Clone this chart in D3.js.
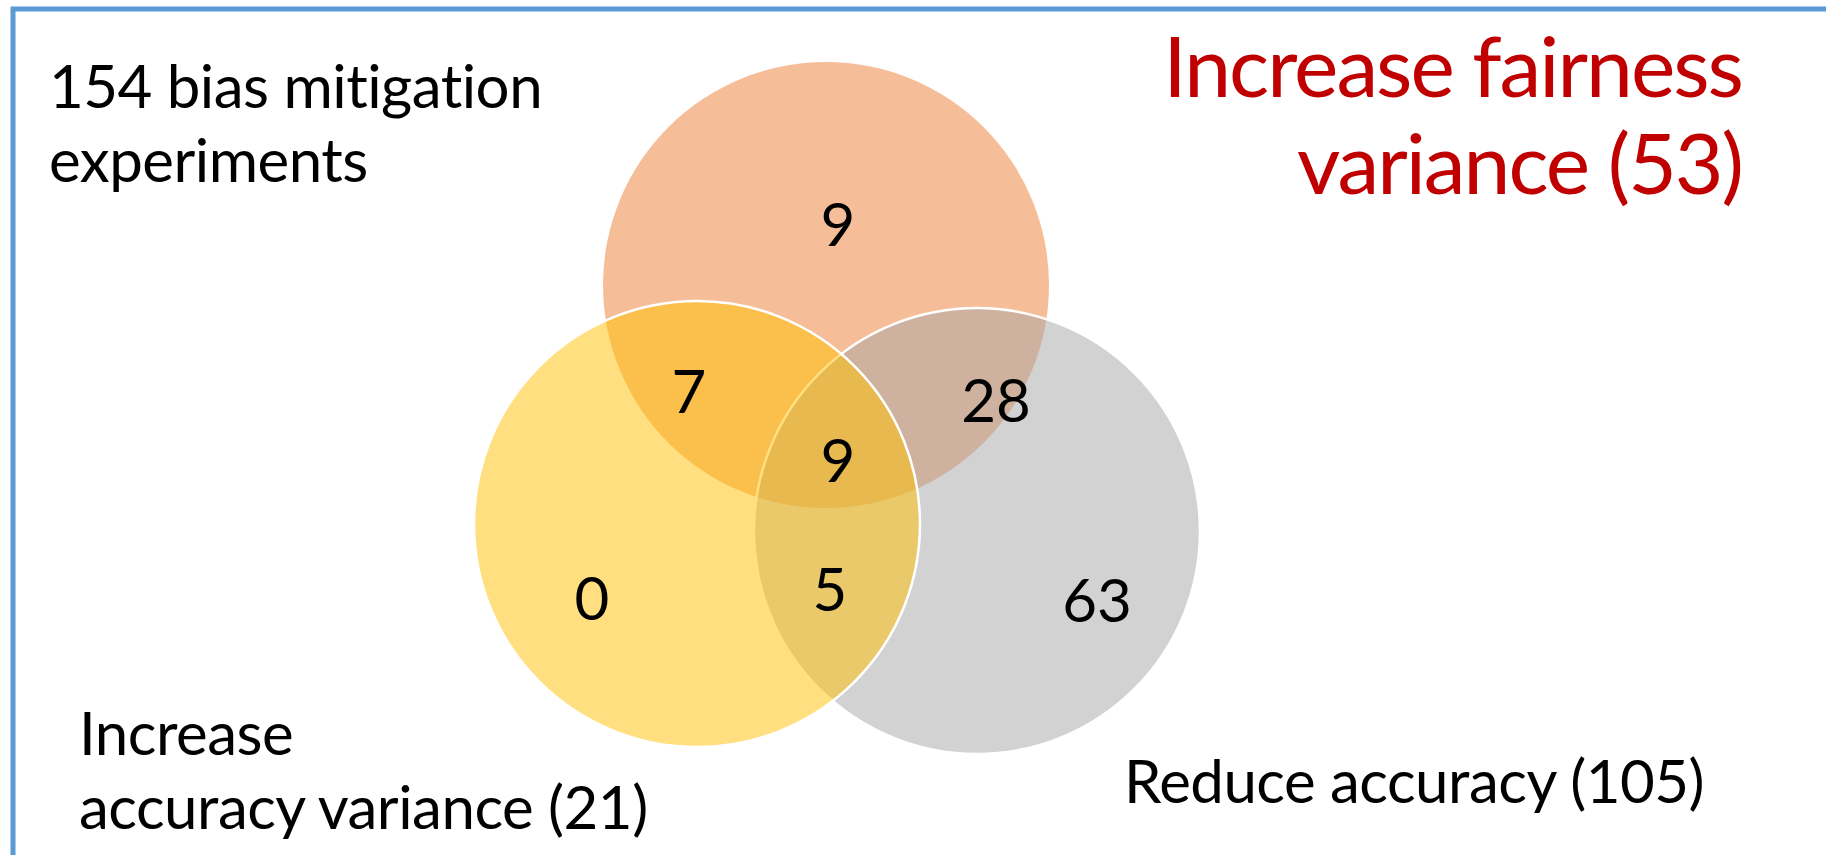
<!DOCTYPE html>
<html>
<head>
<meta charset="utf-8">
<script src="https://cdn.jsdelivr.net/npm/d3@7"></script>
<style>
  body { margin: 0; background: #fff; }
  svg { display: block; }
  text { font-family: Lato, "Open Sans", sans-serif; }
</style>
</head>
<body>
<div id="venn"></div>
<script>
// the three sets (draw order: bottom to top)
const setKeys = ["fair", "acc", "accvar"];
const setColors = ["#ED7D31", "#A5A5A5", "#FFC000"];

// region counts, keyed by the sets they belong to
const regionKeys = ["fair", "fair+accvar", "fair+acc", "fair+acc+accvar", "accvar", "acc+accvar", "acc"];
const regionCounts = [9, 7, 28, 9, 0, 5, 63];

const totalLabel = ["154 bias mitigation", "experiments"];
const fairLabel = ["Increase fairness", "variance (53)"];
const accvarLabel = ["Increase", "accuracy variance (21)"];
const accLabel = ["Reduce accuracy (105)"];

const width = 1826, height = 855;

const svg = d3.select("#venn").append("svg")
    .attr("width", width)
    .attr("height", height);

// frame (only top and left edges fall inside the picture)
svg.append("rect")
    .attr("x", 13).attr("y", 9)
    .attr("width", 2000).attr("height", 1000)
    .attr("fill", "none")
    .attr("stroke", "#5B9BD5")
    .attr("stroke-width", 5);

// circle layout, in pixels
const r = 223;
const centers = {
    fair: [826, 285],
    acc: [977, 531],
    accvar: [697, 524]
};

svg.append("g").selectAll("circle")
    .data(setKeys)
    .join("circle")
    .attr("cx", d => centers[d][0])
    .attr("cy", d => centers[d][1])
    .attr("r", r)
    .attr("fill", (d, i) => setColors[i])
    .attr("fill-opacity", 0.5)
    .attr("stroke", (d, i) => i === 0 ? "none" : "#fff")
    .attr("stroke-width", 2.5);

// where each region's number sits
const regionPos = {
    "fair": [838, 246],
    "fair+accvar": [689, 413],
    "fair+acc": [996, 422],
    "fair+acc+accvar": [838, 482],
    "accvar": [592, 620],
    "acc+accvar": [830, 611],
    "acc": [1097, 622]
};

svg.append("g").selectAll("text")
    .data(regionKeys)
    .join("text")
    .attr("x", d => regionPos[d][0])
    .attr("y", d => regionPos[d][1])
    .attr("text-anchor", "middle")
    .style("font-size", "60px")
    .attr("fill", "#000")
    .text((d, i) => regionCounts[i]);

function block(lines, x, y, lh, size, color, anchor, spacing) {
    const t = svg.append("text")
        .attr("fill", color)
        .attr("text-anchor", anchor)
        .style("font-size", size + "px")
        .style("letter-spacing", spacing + "px");
    lines.forEach((s, i) => {
        t.append("tspan").attr("x", x).attr("y", y + i * lh).text(s);
    });
}

block(totalLabel, 49, 108, 74, 60, "#000", "start", -0.5);
block(fairLabel, 1742, 97, 97, 84, "#C00000", "end", -2);
block(accvarLabel, 79, 755, 74, 60, "#000", "start", -0.5);
block(accLabel, 1124, 803, 74, 60, "#000", "start", -0.5);
</script>
</body>
</html>
